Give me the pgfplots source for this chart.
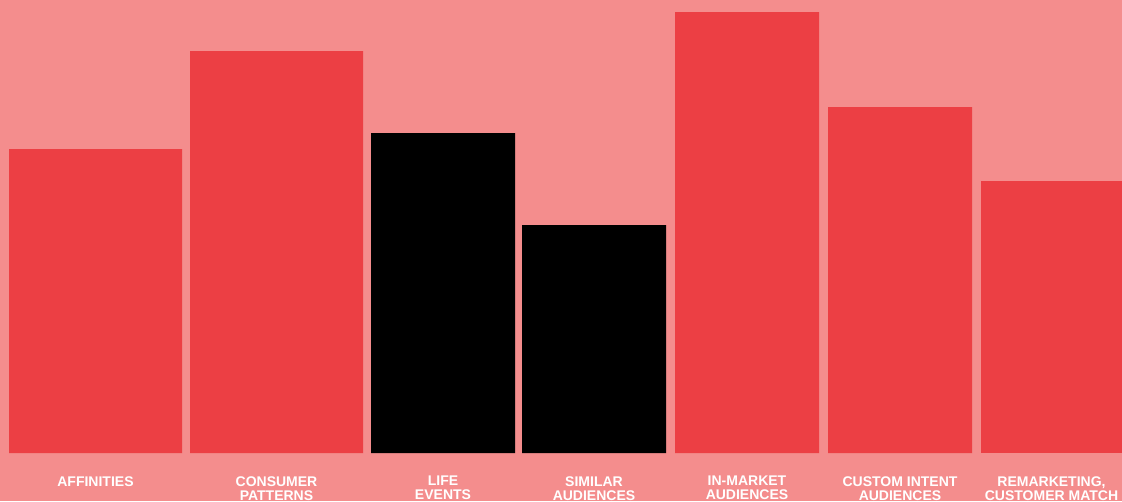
\documentclass[border=0pt]{standalone}
\usepackage{pgfplots}
\pgfplotsset{compat=1.18}
\usepackage{fontspec}
\setmainfont{Liberation Sans}
\definecolor{bgpink}{RGB}{244,141,141}
\definecolor{barred}{RGB}{236,63,68}
\begin{document}
\begin{tikzpicture}
\path[use as bounding box, clip] (0,0) rectangle (841.5pt,375.75pt);
\begin{axis}[
  at={(0,0)}, anchor=south west,
  scale only axis, width=841.5pt, height=375.75pt,
  xmin=0, xmax=1122, ymin=-48, ymax=453,
  axis background/.style={fill=bgpink},
  axis line style={draw=none},
  major tick length=0pt,
  ytick=\empty,
  xtick={95.5,276.5,443,594,747,900,1051.5},
  xticklabels={AFFINITIES, CONSUMER\\PATTERNS, LIFE\\EVENTS, SIMILAR\\AUDIENCES, IN-MARKET\\AUDIENCES, CUSTOM INTENT\\AUDIENCES, {REMARKETING,\\CUSTOMER MATCH}},
  xticklabel style={font=\bfseries\fontsize{10.5}{10.5}\selectfont, text=white, align=center, inner sep=0pt, anchor=north, yshift=18.75pt},
]
\addplot[ybar, bar width=173, bar shift=0pt, fill=barred, draw=none] coordinates {(95.5,304) (276.5,402)};
\addplot[ybar, bar width=144, bar shift=0pt, fill=black, draw=none] coordinates {(443,320) (594,228)};
\addplot[ybar, bar width=144, bar shift=0pt, fill=barred, draw=none] coordinates {(747,441) (900,346)};
\addplot[ybar, bar width=141, bar shift=0pt, fill=barred, draw=none] coordinates {(1051.5,272)};
\end{axis}
\end{tikzpicture}
\end{document}
